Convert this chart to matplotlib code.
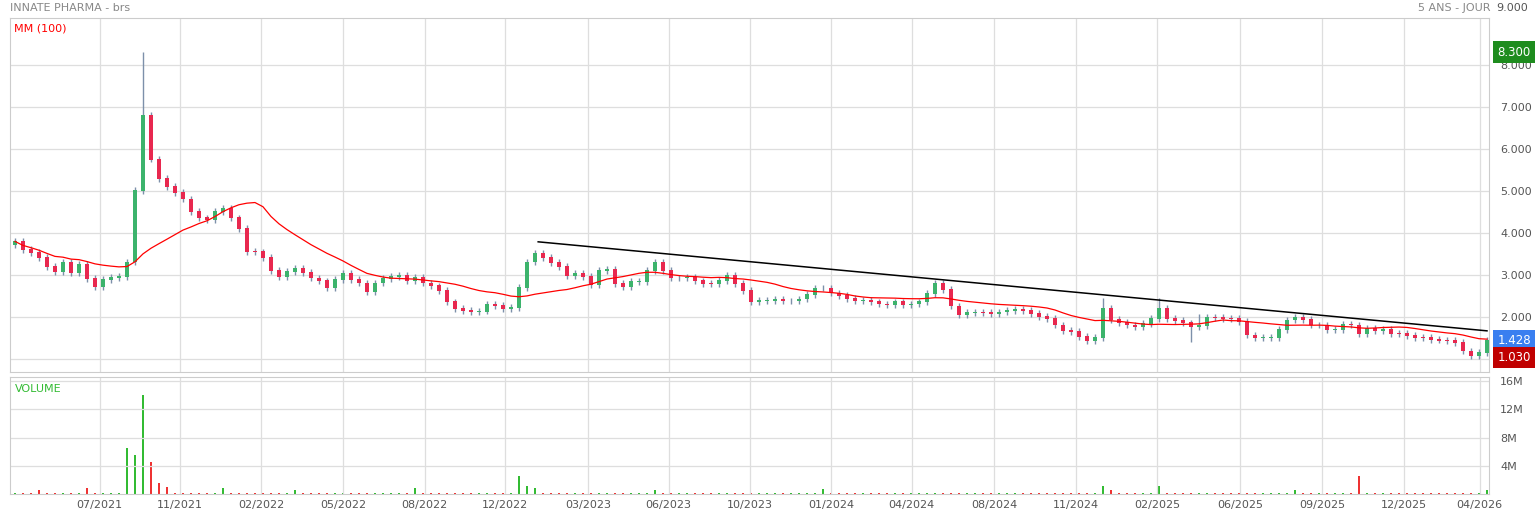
"""Innate Pharma, 5-year candle chart with MM(100) and volume."""

import matplotlib.pyplot as plt
import numpy as np
import pandas as pd

# closes sampled every ~7 trading days
closes = [
    3.79, 3.60, 3.53, 3.40, 3.20, 3.08, 3.30, 3.05, 3.25, 2.90, 2.71, 2.88, 2.93, 2.95,
    3.30, 5.00, 6.80, 5.75, 5.28, 5.10, 4.95, 4.80, 4.50, 4.35, 4.30, 4.50, 4.58, 4.35,
    4.10, 3.55, 3.54, 3.40, 3.10, 2.95, 3.07, 3.14, 3.05, 2.92, 2.85, 2.70, 2.88, 3.02,
    2.89, 2.80, 2.60, 2.80, 2.90, 2.96, 2.98, 2.85, 2.93, 2.80, 2.73, 2.62, 2.35, 2.20,
    2.15, 2.12, 2.13, 2.30, 2.27, 2.20, 2.22, 2.70, 3.30, 3.50, 3.40, 3.29, 3.20, 2.98,
    3.02, 2.95, 2.75, 3.10, 3.12, 2.79, 2.72, 2.83, 2.83, 3.10, 3.29, 3.10, 2.92, 2.92,
    2.94, 2.85, 2.79, 2.78, 2.86, 2.98, 2.78, 2.62, 2.35, 2.38, 2.38, 2.42, 2.37, 2.37,
    2.42, 2.52, 2.68, 2.68, 2.56, 2.50, 2.43, 2.39, 2.39, 2.35, 2.30, 2.29, 2.35, 2.28,
    2.30, 2.35, 2.55, 2.78, 2.64, 2.25, 2.05, 2.09, 2.11, 2.10, 2.08, 2.11, 2.15, 2.17,
    2.14, 2.08, 2.01, 1.95, 1.80, 1.67, 1.65, 1.52, 1.43, 1.50, 2.20, 1.93, 1.86, 1.80,
    1.77, 1.83, 1.95, 2.20, 1.95, 1.90, 1.85, 1.76, 1.78, 1.98, 1.97, 1.96, 1.95, 1.88,
    1.56, 1.51, 1.51, 1.51, 1.70, 1.92, 1.98, 1.93, 1.80, 1.80, 1.68, 1.70, 1.82, 1.80,
    1.60, 1.72, 1.67, 1.70, 1.60, 1.59, 1.55, 1.51, 1.50, 1.46, 1.44, 1.43, 1.39, 1.18,
    1.08, 1.15, 1.428,
]
first_open = 3.72
spike_idx = [16, 136, 143, 148]
spike_high = [8.30, 2.45, 2.45, 2.05]
dip_idx = [147]
dip_low = [1.40]

# volume in millions, mostly background noise plus a few spikes
volumes = [0.15] * len(closes)
vol_spikes = {3: 0.6, 9: 0.8, 14: 6.5, 15: 5.5, 16: 14.0, 17: 4.5, 18: 1.6, 19: 1.0,
              26: 0.8, 35: 0.5, 50: 0.9, 63: 2.6, 64: 1.2, 65: 0.9, 80: 0.6,
              101: 0.7, 136: 1.2, 137: 0.6, 143: 1.1, 160: 0.6, 168: 2.6, 184: 0.5}
for i, v in vol_spikes.items():
    volumes[i] = v

date_labels = ["07/2021", "11/2021", "02/2022", "05/2022", "08/2022", "12/2022",
               "03/2023", "06/2023", "10/2023", "01/2024", "04/2024", "08/2024",
               "11/2024", "02/2025", "06/2025", "09/2025", "12/2025", "04/2026"]
date_pos = [10.6, 20.6, 30.8, 41.0, 51.2, 61.2, 71.6, 81.7, 91.9, 102.0, 112.1, 122.4,
            132.6, 142.8, 153.1, 163.4, 173.6, 183.1]

trend_x = [65.4, 184.0]
trend_y = [3.78, 1.66]

last_close = 1.428
lowest = 1.030
highest = 8.300

GREEN = "#3cb36c"
RED = "#e8284f"
WICK = "#7d90aa"
GRID = "#dedede"
TXT = "#555555"


def main():
    n = len(closes)
    x = np.arange(n)
    c = np.array(closes)
    o = np.concatenate([[first_open], c[:-1]])
    hi = np.maximum(o, c) + 0.08
    lo = np.minimum(o, c) - 0.08
    hi[spike_idx] = spike_high
    lo[dip_idx] = dip_low
    up = c >= o
    ma = pd.Series(c).rolling(16, min_periods=1).mean()

    fig = plt.figure(figsize=(15.38, 5.15), dpi=100)
    ax = fig.add_axes([10 / 1538, 143 / 515, 1479 / 1538, 354 / 515])
    axv = fig.add_axes([10 / 1538, 21 / 515, 1479 / 1538, 117 / 515])
    xlim = (-0.62, 184.25)

    ax.vlines(x, lo, hi, color=WICK, lw=1.0, zorder=2)
    ax.bar(x, np.abs(c - o) + 0.02, bottom=np.minimum(o, c) - 0.01, width=0.55,
           color=np.where(up, GREEN, RED), zorder=3)
    ax.plot(x, ma, color="red", lw=0.9, zorder=4)
    ax.plot(trend_x, trend_y, color="black", lw=1.1, zorder=5)
    ax.set_xlim(*xlim)
    ax.set_ylim(0.68, 9.11)
    ax.set_yticks(range(1, 9))
    ax.yaxis.tick_right()
    ax.set_yticklabels([f"{v}.000" for v in range(1, 9)], color=TXT, fontsize=8)
    ax.set_xticks(date_pos)
    ax.set_xticklabels([])
    ax.grid(True, color=GRID, lw=0.9)
    ax.tick_params(length=0, pad=8)
    ax.text(0.003, 0.985, "MM (100)", color="red", fontsize=8, transform=ax.transAxes,
            va="top")

    for val, col in [(highest, "#1e8c1e"), (last_close, "#3a7ff0"), (lowest, "#c00000")]:
        ax.annotate(f"{val:.3f}", xy=(1.0, val), xycoords=("axes fraction", "data"),
                    xytext=(6, 0), textcoords="offset points", va="center", ha="left",
                    color="white", fontsize=8.5, zorder=10,
                    bbox=dict(boxstyle="square,pad=0.35", fc=col, ec="none"))

    axv.bar(x, volumes, width=0.18, color=np.where(up, "#33bb33", "#ee3333"))
    axv.set_xlim(*xlim)
    axv.set_ylim(0, 16.6)
    axv.set_yticks([4, 8, 12, 16])
    axv.yaxis.tick_right()
    axv.set_yticklabels(["4M", "8M", "12M", "16M"], color=TXT, fontsize=8)
    axv.set_xticks(date_pos)
    axv.set_xticklabels(date_labels, color=TXT, fontsize=8)
    axv.grid(True, color=GRID, lw=0.9)
    axv.tick_params(length=0, pad=4)
    axv.tick_params(axis="y", pad=8)
    axv.text(0.003, 0.94, "VOLUME", color="#33bb33", fontsize=8, transform=axv.transAxes,
             va="top")

    for a in (ax, axv):
        for s in a.spines.values():
            s.set_color("#cccccc")

    fig.text(10 / 1538, 1 - 8 / 515, "INNATE PHARMA - brs", color="#888888",
             fontsize=8, va="center")
    fig.text(1491 / 1538, 1 - 8 / 515, "5 ANS - JOUR", color="#888888", fontsize=8,
             va="center", ha="right")
    fig.text(1496 / 1538, 1 - 8 / 515, "9.000", color=TXT, fontsize=8, va="center")

    fig.savefig("out.png", dpi=100, facecolor="white")


if __name__ == "__main__":
    main()
